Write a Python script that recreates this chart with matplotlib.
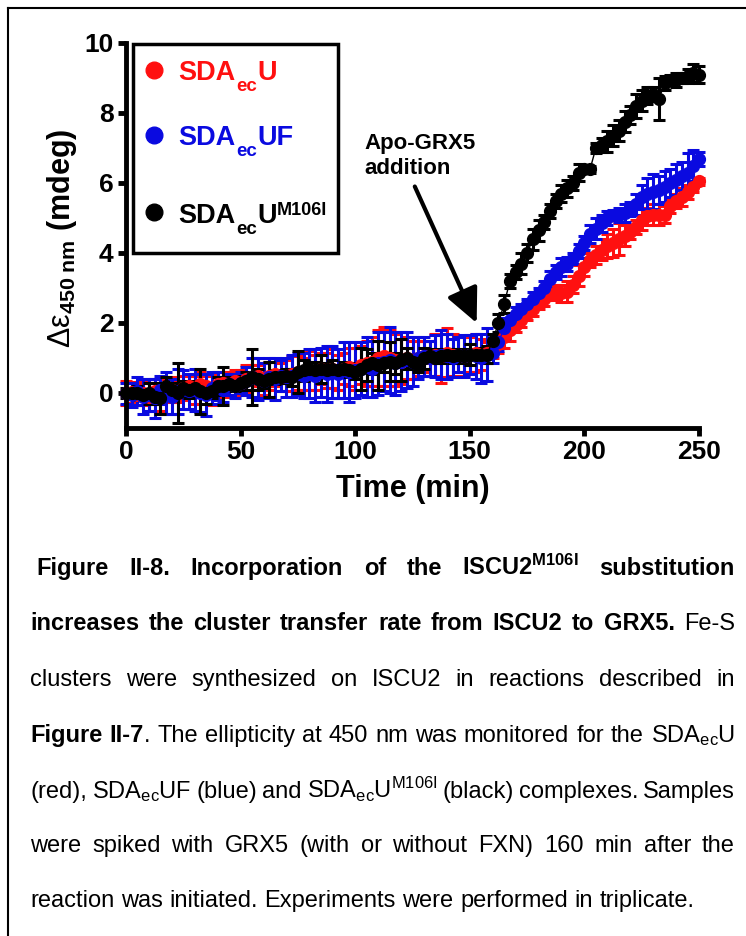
import numpy as np
import matplotlib
matplotlib.use('Agg')
import matplotlib.pyplot as plt
from matplotlib.patches import Rectangle
from matplotlib.lines import Line2D

plt.rcParams['font.family'] = ['Liberation Sans', 'DejaVu Sans']
plt.rcParams['mathtext.fontset'] = 'custom'
plt.rcParams['mathtext.rm'] = 'Liberation Sans'
plt.rcParams['mathtext.bf'] = 'Liberation Sans:bold'
plt.rcParams['mathtext.it'] = 'Liberation Sans:italic'
plt.rcParams['mathtext.default'] = 'regular'

# CD time course, one reading every 2.5 min
time = np.arange(0, 250.1, 2.5)

sda_u = [0.0, 0.02, -0.05, 0.0, -0.1, 0.05, -0.05, 0.15, 0.1, 0.05,
         0.15, 0.2, 0.1, 0.25, 0.2, 0.1, 0.25, 0.3, 0.25, 0.35,
         0.3, 0.4, 0.45, 0.5, 0.4, 0.5, 0.55, 0.45, 0.5, 0.55,
         0.6, 0.55, 0.65, 0.6, 0.7, 0.65, 0.7, 0.6, 0.7, 0.75,
         0.7, 0.8, 0.85, 0.9, 1.0, 1.05, 1.0, 0.95, 0.9, 1.0,
         0.95, 1.0, 1.05, 1.0, 1.1, 1.05, 1.15, 1.1, 1.1, 1.05,
         1.1, 1.15, 1.1, 1.15, 1.2, 1.4, 1.6, 1.8, 1.95, 2.1,
         2.25, 2.4, 2.55, 2.7, 2.8, 2.9, 2.85, 2.9, 3.1, 3.35,
         3.6, 3.8, 3.95, 4.1, 4.2, 4.3, 4.4, 4.5, 4.6, 4.75,
         4.95, 5.05, 5.1, 5.1, 5.1, 5.35, 5.5, 5.6, 5.75, 5.9,
         6.05]
sda_u_err = [0.35, 0.3, 0.3, 0.35, 0.4, 0.35, 0.45, 0.3, 0.35, 0.3,
             0.35, 0.3, 0.4, 0.35, 0.3, 0.45, 0.35, 0.3, 0.35, 0.3,
             0.35, 0.4, 0.35, 0.3, 0.45, 0.4, 0.35, 0.4, 0.45, 0.5,
             0.5, 0.45, 0.55, 0.5, 0.45, 0.5, 0.55, 0.5, 0.45, 0.55,
             0.6, 0.55, 0.65, 0.7, 0.8, 0.85, 0.8, 0.75, 0.65, 0.6,
             0.55, 0.5, 0.45, 0.5, 0.6, 0.75, 0.7, 0.6, 0.5, 0.55,
             0.5, 0.55, 0.45, 0.3, 0.2, 0.25, 0.3, 0.3, 0.2, 0.2,
             0.15, 0.2, 0.15, 0.2, 0.15, 0.2, 0.25, 0.3, 0.25, 0.3,
             0.25, 0.2, 0.25, 0.3, 0.35, 0.4, 0.45, 0.3, 0.2, 0.2,
             0.3, 0.25, 0.3, 0.3, 0.25, 0.2, 0.2, 0.25, 0.2, 0.15,
             0.1]

sda_uf = [0.0, -0.05, 0.05, -0.1, -0.05, -0.15, 0.1, 0.0, -0.1, 0.05,
          0.1, 0.05, 0.1, 0.0, -0.05, 0.15, 0.2, 0.1, 0.25, 0.2,
          0.3, 0.35, 0.45, 0.4, 0.35, 0.45, 0.4, 0.5, 0.45, 0.5,
          0.55, 0.5, 0.55, 0.5, 0.6, 0.55, 0.6, 0.55, 0.65, 0.6,
          0.65, 0.7, 0.75, 0.7, 0.85, 0.9, 0.95, 0.85, 0.9, 0.95,
          0.9, 1.0, 1.05, 1.0, 1.05, 1.1, 1.05, 1.0, 1.1, 1.05,
          1.1, 1.05, 1.0, 1.1, 1.15, 1.45, 1.85, 2.1, 2.25, 2.4,
          2.55, 2.7, 2.85, 3.0, 3.25, 3.45, 3.6, 3.7, 3.85, 4.05,
          4.3, 4.55, 4.7, 4.85, 5.0, 5.08, 5.1, 5.15, 5.25, 5.4,
          5.6, 5.7, 5.75, 5.8, 5.9, 6.0, 6.1, 6.2, 6.3, 6.5,
          6.7]
sda_uf_err = [0.3, 0.35, 0.4, 0.5, 0.45, 0.55, 0.4, 0.6, 0.5, 0.65,
              0.55, 0.5, 0.6, 0.55, 0.6, 0.45, 0.4, 0.35, 0.3, 0.35,
              0.3, 0.4, 0.55, 0.6, 0.5, 0.55, 0.6, 0.45, 0.55, 0.6,
              0.6, 0.65, 0.7, 0.75, 0.7, 0.8, 0.75, 0.7, 0.8, 0.85,
              0.8, 0.75, 0.85, 0.8, 0.9, 0.85, 0.95, 0.9, 0.85, 0.8,
              0.7, 0.6, 0.55, 0.5, 0.6, 0.7, 0.65, 0.55, 0.5, 0.6,
              0.55, 0.65, 0.7, 0.75, 0.3, 0.25, 0.3, 0.2, 0.2, 0.15,
              0.15, 0.2, 0.15, 0.2, 0.25, 0.2, 0.25, 0.2, 0.15, 0.2,
              0.2, 0.25, 0.3, 0.25, 0.2, 0.15, 0.2, 0.25, 0.2, 0.3,
              0.35, 0.45, 0.5, 0.4, 0.45, 0.4, 0.45, 0.4, 0.55, 0.45,
              0.2]

sda_m106i = [0.0, 0.0, 0.0, -0.05, 0.0, -0.1, -0.15, 0.2, 0.1, 0.0,
             0.15, 0.1, 0.15, 0.05, 0.0, 0.05, 0.2, 0.2, 0.25, 0.2,
             0.3, 0.35, 0.45, 0.4, 0.35, 0.4, 0.45, 0.45, 0.5, 0.45,
             0.6, 0.65, 0.7, 0.65, 0.7, 0.65, 0.7, 0.65, 0.7, 0.65,
             0.6, 0.7, 0.8, 0.85, 0.8, 0.85, 0.9, 0.85, 0.95, 1.0,
             0.9, 0.85, 1.0, 1.05, 1.0, 1.05, 1.1, 1.05, 1.1, 1.05,
             1.1, 1.1, 1.1, 1.1, 1.5, 2.0, 2.55, 3.2, 3.45, 3.7,
             4.0, 4.4, 4.65, 4.9, 5.2, 5.5, 5.7, 5.85, 6.0, 6.3,
             6.4, 6.4, 7.0, 7.1, 7.2, 7.35, 7.5, 7.75, 7.95, 8.2,
             8.35, 8.5, 8.55, 8.4, 8.85, 8.95, 8.95, 9.0, 9.05, 9.15,
             9.1]
sda_m106i_err = [0.15, 0.1, 0.2, 0.15, 0.3, 0.2, 0.45, 0.25, 0.2, 0.85,
                 0.2, 0.25, 0.15, 0.65, 0.3, 0.2, 0.25, 0.55, 0.2, 0.15,
                 0.2, 0.25, 0.8, 0.3, 0.2, 0.5, 0.2, 0.15, 0.2, 0.25,
                 0.6, 0.3, 0.2, 0.25, 0.4, 0.2, 0.25, 0.15, 0.2, 0.2,
                 0.2, 0.6, 0.45, 0.3, 0.7, 0.25, 0.55, 0.3, 0.6, 0.3,
                 0.2, 0.25, 0.3, 0.2, 0.15, 0.2, 0.15, 0.2, 0.15, 0.2,
                 0.3, 0.15, 0.2, 0.25, 0.2, 0.25, 0.25, 0.2, 0.2, 0.3,
                 0.25, 0.3, 0.3, 0.2, 0.2, 0.2, 0.25, 0.25, 0.2, 0.25,
                 0.1, 0.1, 0.15, 0.2, 0.3, 0.3, 0.3, 0.3, 0.25, 0.35,
                 0.3, 0.25, 0.2, 0.6, 0.2, 0.15, 0.2, 0.15, 0.2, 0.25,
                 0.25]

# legend labels as (text, role) pieces: main / sub / sup
series_labels = [
    [('SDA', 'main'), ('ec', 'sub'), ('U', 'main')],
    [('SDA', 'main'), ('ec', 'sub'), ('UF', 'main')],
    [('SDA', 'main'), ('ec', 'sub'), ('U', 'main'), ('M106I', 'sup')],
]
series_colors = ['#ff1010', '#0a0ae0', 'black']

W, H = 746, 936
fig = plt.figure(figsize=(W / 100, H / 100), dpi=100)
ax = fig.add_axes([126 / W, 1 - 428 / H, 573 / W, 385 / H])
renderer = fig.canvas.get_renderer()

for y, err, c in zip([sda_u, sda_uf, sda_m106i],
                     [sda_u_err, sda_uf_err, sda_m106i_err], series_colors):
    ax.errorbar(time, y, yerr=err, fmt='-o', color=c, ms=8.5, lw=1,
                elinewidth=2.2, capsize=4, capthick=2.2, clip_on=False)

ax.set_xlim(0, 250)
ax.set_ylim(-1, 10)
ax.set_xticks([0, 50, 100, 150, 200, 250])
ax.set_yticks([0, 2, 4, 6, 8, 10])
for side in ['top', 'right']:
    ax.spines[side].set_visible(False)
for side in ['left', 'bottom']:
    ax.spines[side].set_linewidth(3.5)
ax.tick_params(width=3.5, length=6, labelsize=19, pad=3)
for lbl in ax.get_xticklabels() + ax.get_yticklabels():
    lbl.set_fontweight('bold')

ax.set_xlabel('Time (min)', fontsize=22, fontweight='bold', labelpad=7)
fig.text(62 / W, 1 - 238 / H, r'$\mathrm{Δε}_{\mathregular{450\ nm}}$ (mdeg)',
         rotation=90, ha='center', va='center', fontsize=22, fontweight='bold')


def width_px(s, size, weight='bold'):
    t = fig.text(0, 0, s, fontsize=size, fontweight=weight)
    w = t.get_window_extent(renderer).width
    t.remove()
    return w


# legend drawn by hand inside the plot
ax.add_patch(Rectangle((3, 4.0), 89.5, 5.97, facecolor='white',
                       edgecolor='black', lw=2.5, zorder=6, clip_on=False))
piece_style = {'main': (19.5, 0), 'sub': (13.5, -11), 'sup': (13, 8)}
for pieces, c, ym, yb in zip(series_labels, series_colors,
                             [9.23, 7.37, 5.17], [8.94, 7.09, 4.86]):
    ax.plot([12.2], [ym], 'o', color=c, ms=12, zorder=7, clip_on=False)
    dx = 0.0
    for s, role in pieces:
        size, dy = piece_style[role]
        ax.annotate(s, xy=(23, yb), xytext=(dx * 0.72, dy * 0.72),
                    textcoords='offset points', color=c, fontsize=size,
                    fontweight='bold', va='baseline', ha='left', zorder=7)
        dx += width_px(s, size) + (1 if role == 'sub' else 0)

# spike marker
ax.text(104, 6.77, 'Apo-GRX5\naddition', fontsize=16, fontweight='bold',
        ha='left', va='center', linespacing=1.25)
ax.annotate('', xy=(153, 2.0), xytext=(126, 5.9),
            arrowprops=dict(arrowstyle='-|>,head_length=0.7,head_width=0.33',
                            lw=3, color='black', mutation_scale=30,
                            shrinkA=0, shrinkB=0))

# frame
fig.add_artist(Line2D([8 / W, 1], [1 - 8 / H, 1 - 8 / H],
                      transform=fig.transFigure, color='black', lw=1.5))
fig.add_artist(Line2D([8 / W, 8 / W], [0, 1 - 8 / H],
                      transform=fig.transFigure, color='black', lw=1.5))

# caption, justified line by line
caption = [
    [(' Figure II-8. Incorporation of the ISCU2$^{M106I}$ substitution', True)],
    [('increases the cluster transfer rate from ISCU2 to GRX5.', True),
     (' Fe-S', False)],
    [('clusters were synthesized on ISCU2 in reactions described in', False)],
    [('Figure II-7', True),
     ('. The ellipticity at 450 nm was monitored for the SDA$_{ec}$U', False)],
    [('(red), SDA$_{ec}$UF (blue) and SDA$_{ec}$U$^{M106I}$ (black) complexes. Samples', False)],
    [('were spiked with GRX5 (with or without FXN) 160 min after the', False)],
    [('reaction was initiated. Experiments were performed in triplicate.', False)],
]
baselines = [575, 630, 686, 742, 798, 852, 907]
cap_size = 17
x_left, x_right = 30, 735


def split_words(segments):
    words = [[]]
    for s, b in segments:
        for i, p in enumerate(s.split(' ')):
            if i > 0:
                words.append([])
            if p:
                words[-1].append((p, b))
    return words


space_w = width_px('a a', cap_size, 'normal') - width_px('aa', cap_size, 'normal')

for n, (segments, yb) in enumerate(zip(caption, baselines)):
    words = split_words(segments)
    x0 = x_left
    if not words[0]:
        x0 += space_w
    words = [w for w in words if w]
    widths = [[width_px(p, cap_size, 'bold' if b else 'normal') for p, b in w]
              for w in words]
    total = sum(sum(ws) for ws in widths)
    if n == len(caption) - 1:
        gap = space_w
    else:
        gap = (x_right - x0 - total) / (len(words) - 1)
    x = x0
    for w, ws in zip(words, widths):
        for (p, b), pw in zip(w, ws):
            fig.text(x / W, 1 - yb / H, p, fontsize=cap_size,
                     fontweight='bold' if b else 'normal',
                     ha='left', va='baseline')
            x += pw
        x += gap

fig.savefig('out.png', dpi=100)
